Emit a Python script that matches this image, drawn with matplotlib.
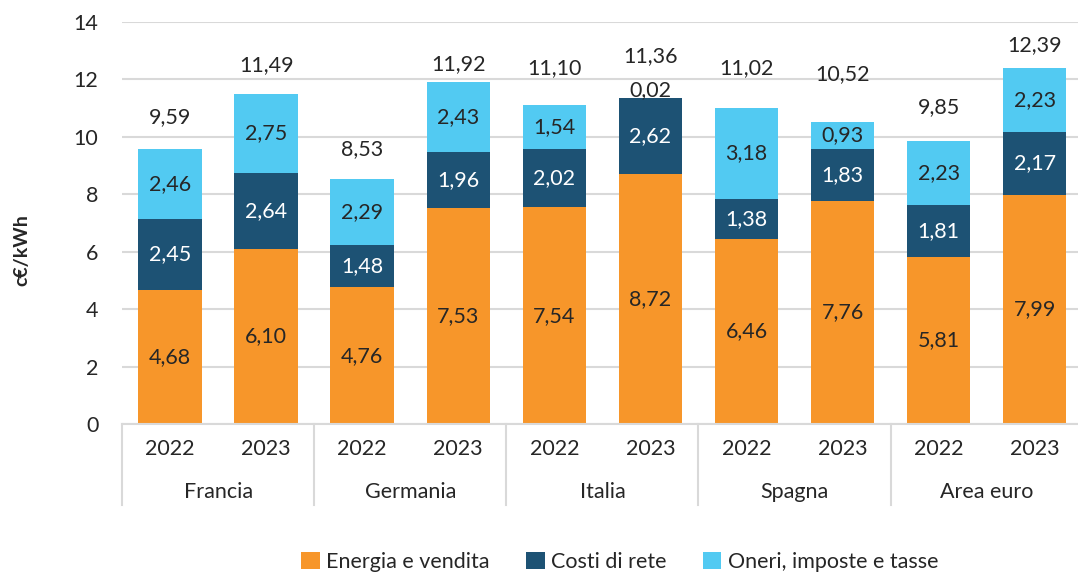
import numpy as np
import matplotlib
matplotlib.use("Agg")
import matplotlib.pyplot as plt
from matplotlib.patches import Patch

plt.rcParams['font.family'] = ['Lato', 'DejaVu Sans']

# data (c€/kWh)
countries = ["Francia", "Germania", "Italia", "Spagna", "Area euro"]
years = ["2022", "2023"]
energia = [4.68, 6.10, 4.76, 7.53, 7.54, 8.72, 6.46, 7.76, 5.81, 7.99]
rete = [2.45, 2.64, 1.48, 1.96, 2.02, 2.62, 1.38, 1.83, 1.81, 2.17]
oneri = [2.46, 2.75, 2.29, 2.43, 1.54, 0.02, 3.18, 0.93, 2.23, 2.23]
totali = [9.59, 11.49, 8.53, 11.92, 11.10, 11.36, 11.02, 10.52, 9.85, 12.39]
series_names = ["Energia e vendita", "Costi di rete", "Oneri, imposte e tasse"]

# styling
colors = ["#F7962A", "#1D5274", "#52CAF2"]
label_colors = ["#262626", "white", "#262626"]
text_col = "#262626"
grid_col = "#D9D9D9"
total_offsets = [32, 29, 30, 18, 37, 42, 39, 48, 34, 23]  # px above bar top
fs = 15.5


def fmt(v):
    return f"{v:.2f}".replace(".", ",")


fig = plt.figure(figsize=(10.78, 5.77), dpi=100)
ax = fig.add_axes([122 / 1078, 1 - 424 / 577, 1 - 122 / 1078, 402 / 577])

x = np.arange(len(energia))
bottom = np.zeros(len(x))
for vals, col, lcol, name in zip([energia, rete, oneri], colors, label_colors, series_names):
    vals = np.array(vals)
    ax.bar(x, vals, width=0.66, bottom=bottom, color=col, label=name, zorder=2)
    for xi, b, v in zip(x, bottom, vals):
        if v < 0.1:
            ax.annotate(fmt(v), (xi, b + v), xytext=(0, 8), textcoords="offset pixels",
                        ha="center", va="center", fontsize=fs, color=text_col)
        else:
            ax.text(xi, b + v / 2, fmt(v), ha="center", va="center", fontsize=fs, color=lcol)
    bottom = bottom + vals

for xi, t, off in zip(x, totali, total_offsets):
    ax.annotate(fmt(t), (xi, bottom[xi]), xytext=(0, off), textcoords="offset pixels",
                ha="center", va="center", fontsize=fs, color=text_col)

ax.set_ylim(0, 14)
ax.set_xlim(-0.5, 9.45)
ax.set_yticks(range(0, 15, 2))
ax.tick_params(axis="y", length=0, pad=17, labelsize=fs, labelcolor=text_col)
ax.set_xticks([])
ax.yaxis.grid(True, color=grid_col, linewidth=1.5, zorder=0)
ax.set_axisbelow(True)
for s in ["left", "right", "top"]:
    ax.spines[s].set_visible(False)
ax.spines["bottom"].set_color(grid_col)
ax.spines["bottom"].set_linewidth(1.5)

# two-level category axis
trans = ax.get_xaxis_transform()
for i, xi in enumerate(x):
    ax.text(xi, -25 / 402, years[i % 2], transform=trans, ha="center", va="center",
            fontsize=fs, color=text_col)
for g, name in enumerate(countries):
    ax.text(2 * g + 0.5, -68 / 402, name, transform=trans, ha="center", va="center",
            fontsize=fs, color=text_col)
for sep in np.arange(-0.5, 9, 2):
    ax.plot([sep, sep], [0, -81 / 402], transform=trans, color=grid_col,
            linewidth=1.5, clip_on=False)

fig.text(22 / 1078, 1 - 250 / 577, "c€/kWh", rotation=90, ha="center", va="center",
         fontsize=fs - 1.5, fontweight="bold", color=text_col)

handles = [Patch(facecolor=c, label=n) for c, n in zip(colors, series_names)]
fig.legend(handles=handles, loc="center", bbox_to_anchor=(0.575, 0.026), ncol=3,
           frameon=False, fontsize=fs, handlelength=0.85, handleheight=0.85,
           handletextpad=0.3, columnspacing=1.7, labelcolor=text_col)

fig.savefig("out.png", dpi=100)
